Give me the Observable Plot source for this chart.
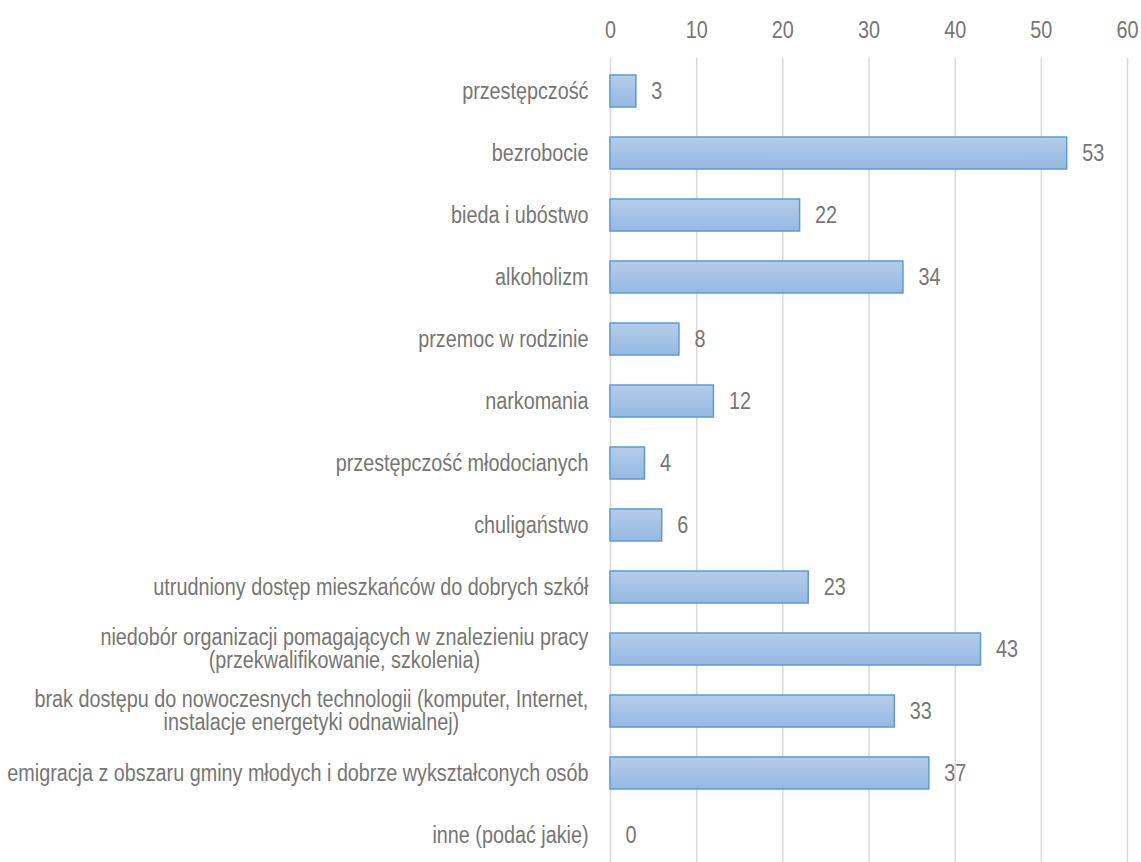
<!DOCTYPE html>
<html><head><meta charset="utf-8">
<script src="https://cdn.jsdelivr.net/npm/d3@7"></script>
<script src="https://cdn.jsdelivr.net/npm/@observablehq/plot@0.6"></script>
<style>
body{margin:0;background:#fff;}
#chart svg{display:block;}
</style></head>
<body><div id="chart"></div>
<script>
const categories = [
  "przestępczość",
  "bezrobocie",
  "bieda i ubóstwo",
  "alkoholizm",
  "przemoc w rodzinie",
  "narkomania",
  "przestępczość młodocianych",
  "chuligaństwo",
  "utrudniony dostęp mieszkańców do dobrych szkół",
  "niedobór organizacji pomagających w znalezieniu pracy\n(przekwalifikowanie, szkolenia)",
  "brak dostępu do nowoczesnych technologii (komputer, Internet,\ninstalacje energetyki odnawialnej)",
  "emigracja z obszaru gminy młodych i dobrze wykształconych osób",
  "inne (podać jakie)"
];
const values = [3, 53, 22, 34, 8, 12, 4, 6, 23, 43, 33, 37, 0];
const xTicks = [0, 10, 20, 30, 40, 50, 60];

const data = categories.map((c, i) => ({category: c, value: values[i]}));
const font = "'Liberation Sans', Arial, sans-serif";
const textColor = "#767676";
const fs = 23;
const sx = 0.86;

const plot = Plot.plot({
  width: 1141,
  height: 862,
  marginTop: 58,
  marginLeft: 610,
  marginRight: 14,
  marginBottom: 0,
  style: {fontFamily: font, fontSize: fs + "px", color: textColor, background: "#fff"},
  x: {domain: [0, 60], ticks: xTicks, axis: null},
  y: {domain: categories, range: [58, 867], paddingInner: 0.485, paddingOuter: 0.2425, axis: null},
  marks: [
    Plot.gridX(xTicks, {stroke: "#d9d9d9", strokeOpacity: 1, strokeWidth: 1.5}),
    Plot.text(xTicks, {x: d => d, frameAnchor: "top", dy: -28, lineAnchor: "middle", text: d => String(d), fill: textColor, fontSize: fs}),
    Plot.barX(data, {x: "value", y: "category", fill: "url(#barGrad)", stroke: "#5b9bd5", strokeWidth: 1.5}),
    Plot.text(data, {x: "value", y: "category", text: d => String(d.value), textAnchor: "start", dx: 15, fill: textColor, fontSize: fs}),
    Plot.text(data, {x: 0, y: "category", text: "category", textAnchor: "end", dx: -22, fill: textColor, fontSize: fs, lineHeight: 1.0})
  ]
});

const svg = d3.select(plot);
const defs = svg.insert("defs", ":first-child");
const g = defs.append("linearGradient").attr("id", "barGrad").attr("x1", 0).attr("y1", 0).attr("x2", 0).attr("y2", 1);
g.append("stop").attr("offset", "0%").attr("stop-color", "#b5cdea");
g.append("stop").attr("offset", "100%").attr("stop-color", "#95b8e2");

document.getElementById("chart").appendChild(plot);

// emulate a narrow sans (Arial Narrow) by horizontal condensing of each label around its anchor
svg.selectAll("text").each(function() {
  const t = this.getAttribute("transform");
  let tr = t;
  if (!tr) {
    const x = +this.getAttribute("x") || 0, y = +this.getAttribute("y") || 0;
    this.removeAttribute("x"); this.removeAttribute("y");
    tr = `translate(${x},${y})`;
  }
  tr += ` scale(${sx},1)`;
  // multi-line labels: centre the lines within a right-aligned block
  const spans = this.querySelectorAll("tspan");
  if (spans.length > 1) {
    let maxLen = 0;
    spans.forEach(s => { maxLen = Math.max(maxLen, s.getComputedTextLength()); });
    this.setAttribute("text-anchor", "middle");
    tr += ` translate(${-maxLen / 2},0)`;
  }
  this.setAttribute("transform", tr);
});
</script>
</body></html>
